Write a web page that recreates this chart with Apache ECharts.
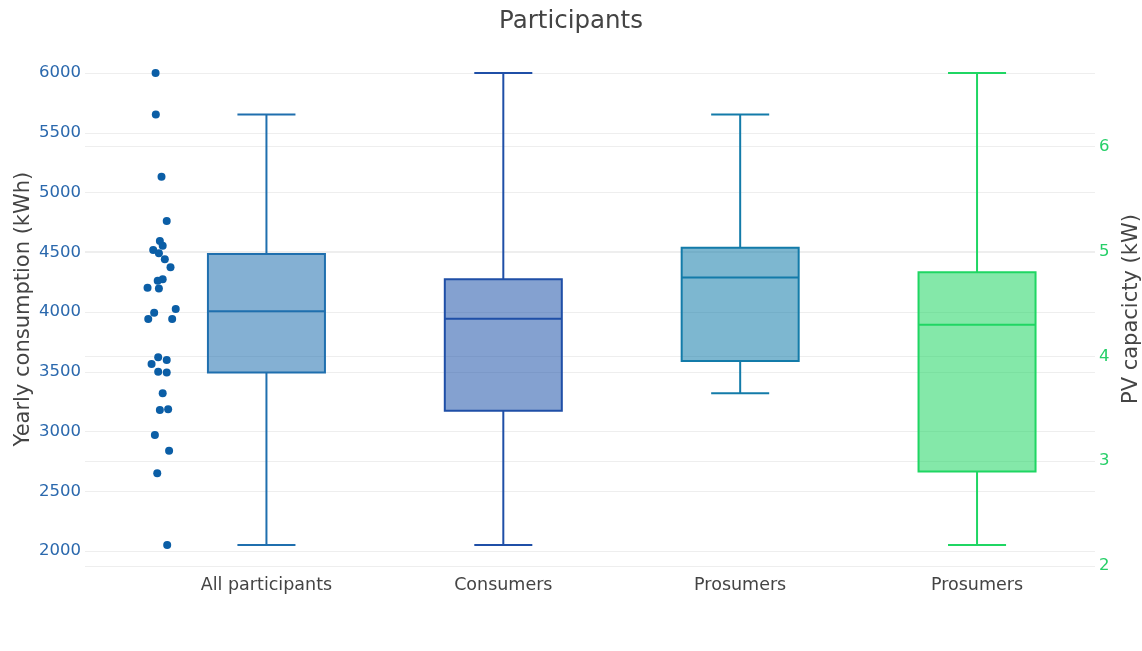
<!DOCTYPE html>
<html>
<head>
<meta charset="utf-8">
<script src="https://cdn.jsdelivr.net/npm/echarts@6/dist/echarts.min.js"></script>
<style>
html,body{margin:0;padding:0;background:#fff}
#chart{width:1142px;height:651px}
</style>
</head>
<body>
<div id="chart"></div>
<script>
var categories = ['All participants', 'Consumers', 'Prosumers', 'Prosumers'];

// box stats : min, q1, median, q3, max
var allStats = [2050, 3495, 4006, 4485, 5654];
var consumerStats = [2050, 3174, 3944, 4274, 6000];
var prosumerStats = [3320, 3590, 4289, 4538, 5654];
var pvStats = [2.2, 2.9, 4.3, 4.8, 6.7]; // kW, right axis

// single participants (kWh) drawn next to the first box
var allPoints = [6000, 5654, 5132, 4762, 4594, 4555, 4519, 4491, 4441, 4374, 4274, 4262, 4203, 4198,
	4025, 3994, 3941, 3941, 3621, 3598, 3565, 3500, 3495, 3320, 3180, 3186, 2971, 2839, 2650, 2050];
var pointJitter = [-0.468, -0.467, -0.443, -0.421, -0.450, -0.438, -0.478, -0.454, -0.429, -0.405, -0.438, -0.459, -0.502, -0.454,
	-0.383, -0.474, -0.499, -0.398, -0.457, -0.421, -0.485, -0.457, -0.421, -0.438, -0.450, -0.415, -0.471, -0.411, -0.461, -0.419];

var leftTicks = [2000, 2500, 3000, 3500, 4000, 4500, 5000, 5500, 6000];
var rightTicks = [2, 3, 4, 5, 6];

var boxColors = ['#1f6fae', '#1f4fa7', '#137ba9', '#1fd663'];
var boxFills = ['rgba(31,111,174,0.55)', 'rgba(31,84,170,0.55)', 'rgba(19,123,169,0.55)', 'rgba(31,214,99,0.55)'];

var myChart = echarts.init(document.getElementById('chart'));

function renderBox(params, api){
	var x = api.value(0);
	var halfBox = 0.247, halfCap = 0.1225;
	var pMin = api.coord([x, api.value(1)]);
	var pQ1 = api.coord([x, api.value(2)]);
	var pMed = api.coord([x, api.value(3)]);
	var pQ3 = api.coord([x, api.value(4)]);
	var pMax = api.coord([x, api.value(5)]);
	var left = api.coord([x - halfBox, api.value(3)])[0];
	var right = api.coord([x + halfBox, api.value(3)])[0];
	var capL = api.coord([x - halfCap, api.value(3)])[0];
	var capR = api.coord([x + halfCap, api.value(3)])[0];
	var ls = {stroke: boxColors[x], lineWidth: 2, fill: null};
	return {
		type: 'group',
		children: [
			{type: 'line', shape: {x1: pQ3[0], y1: pQ3[1], x2: pMax[0], y2: pMax[1]}, style: ls},
			{type: 'line', shape: {x1: pQ1[0], y1: pQ1[1], x2: pMin[0], y2: pMin[1]}, style: ls},
			{type: 'line', shape: {x1: capL, y1: pMax[1], x2: capR, y2: pMax[1]}, style: ls},
			{type: 'line', shape: {x1: capL, y1: pMin[1], x2: capR, y2: pMin[1]}, style: ls},
			{type: 'rect', shape: {x: left, y: pQ3[1], width: right - left, height: pQ1[1] - pQ3[1]},
				style: {fill: boxFills[x], stroke: boxColors[x], lineWidth: 2}},
			{type: 'line', shape: {x1: left, y1: pMed[1], x2: right, y2: pMed[1]}, style: ls}
		]
	};
}

var opt = {
	backgroundColor: '#fff',
	textStyle: {fontFamily: 'DejaVu Sans'},
	title: {
		text: 'Participants',
		left: 'center',
		top: 4,
		textStyle: {fontFamily: 'DejaVu Sans', fontSize: 24.5, fontWeight: 'normal', color: '#444'}
	},
	grid: {left: 85, right: 47, top: 49.5, bottom: 82.4, outerBoundsMode: 'none'},
	xAxis: {
		type: 'value',
		min: -0.766,
		max: 3.498,
		axisLine: {show: false},
		axisTick: {show: false, customValues: [0, 1, 2, 3]},
		splitLine: {show: false},
		axisLabel: {
			customValues: [0, 1, 2, 3],
			formatter: function(v){ return categories[v]; },
			color: '#444',
			fontSize: 17.5,
			margin: 8
		}
	},
	yAxis: [
		{
			type: 'value',
			position: 'left',
			min: 1853,
			max: 6197,
			name: 'Yearly consumption (kWh)',
			nameLocation: 'middle',
			nameRotate: 90,
			nameGap: 51,
			nameMoveOverlap: false,
			nameTextStyle: {color: '#444', fontSize: 21},
			axisLine: {show: false},
			axisTick: {show: false, customValues: leftTicks},
			axisLabel: {
				customValues: leftTicks,
				formatter: function(v){ return String(v); },
				color: '#2a68ad',
				fontSize: 16.5,
				margin: 4
			},
			splitLine: {show: true, lineStyle: {color: '#eeeeee', width: 1}}
		},
		{
			type: 'value',
			position: 'right',
			min: 1.975,
			max: 6.925,
			name: 'PV capacicty (kW)',
			nameLocation: 'middle',
			nameRotate: 90,
			nameGap: 26,
			nameMoveOverlap: false,
			nameTextStyle: {color: '#444', fontSize: 21},
			axisLine: {show: false},
			axisTick: {show: false, customValues: rightTicks},
			axisLabel: {
				customValues: rightTicks,
				formatter: function(v){ return String(v); },
				color: '#26cf68',
				fontSize: 16.5,
				margin: 4
			},
			splitLine: {show: true, lineStyle: {color: '#eeeeee', width: 1}}
		}
	],
	series: [
		{
			type: 'custom',
			yAxisIndex: 0,
			renderItem: renderBox,
			encode: {x: 0, y: [1, 2, 3, 4, 5]},
			data: [[0].concat(allStats), [1].concat(consumerStats), [2].concat(prosumerStats)],
			silent: true
		},
		{
			type: 'custom',
			yAxisIndex: 1,
			renderItem: renderBox,
			encode: {x: 0, y: [1, 2, 3, 4, 5]},
			data: [[3].concat(pvStats)],
			silent: true
		},
		{
			type: 'scatter',
			yAxisIndex: 0,
			symbolSize: 8,
			itemStyle: {color: '#0b5ea6', opacity: 1},
			data: allPoints.map(function(v, i){ return [pointJitter[i], v]; }),
			z: 5
		}
	]
};
myChart.setOption(opt);
</script>
</body>
</html>
